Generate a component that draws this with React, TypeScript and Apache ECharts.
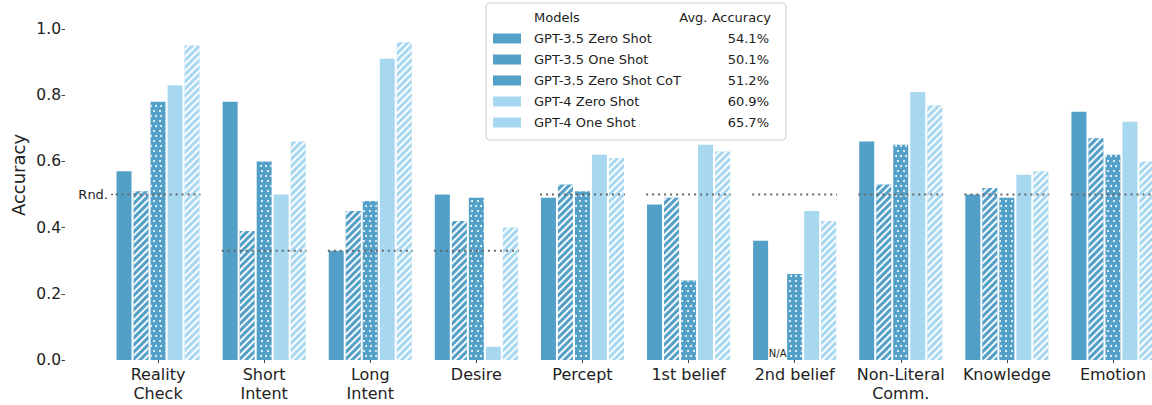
import React, { useEffect, useRef } from "react";
import * as echarts from "echarts";

const categories = [
  "Reality\nCheck",
  "Short\nIntent",
  "Long\nIntent",
  "Desire",
  "Percept",
  "1st belief",
  "2nd belief",
  "Non-Literal\nComm.",
  "Knowledge",
  "Emotion",
];

const models = [
  "GPT-3.5 Zero Shot",
  "GPT-3.5 One Shot",
  "GPT-3.5 Zero Shot CoT",
  "GPT-4 Zero Shot",
  "GPT-4 One Shot",
];

const avgAccuracy = [54.1, 50.1, 51.2, 60.9, 65.7];

const gpt35ZeroShot = [0.57, 0.78, 0.33, 0.5, 0.49, 0.47, 0.36, 0.66, 0.5, 0.75];
const gpt35OneShot: (number | null)[] = [0.51, 0.39, 0.45, 0.42, 0.53, 0.49, null, 0.53, 0.52, 0.67];
const gpt35ZeroShotCoT = [0.78, 0.6, 0.48, 0.49, 0.51, 0.24, 0.26, 0.65, 0.49, 0.62];
const gpt4ZeroShot = [0.83, 0.5, 0.91, 0.04, 0.62, 0.65, 0.45, 0.81, 0.56, 0.72];
const gpt4OneShot = [0.95, 0.66, 0.96, 0.4, 0.61, 0.63, 0.42, 0.77, 0.57, 0.6];

const randomBaseline = [0.5, 0.33, 0.33, 0.33, 0.5, 0.5, 0.5, 0.5, 0.5, 0.5];

const yTicks = [0, 0.2, 0.4, 0.6, 0.8, 1.0];

const FONT = "DejaVu Sans";
const DARK = "#529fc7";
const LIGHT = "#a7d8f0";

const hatch = {
  symbol: "rect",
  symbolSize: 1,
  color: "rgba(255,255,255,0.95)",
  dashArrayX: [1, 0],
  dashArrayY: [1.4, 2.8],
  rotation: -Math.PI / 4,
};

const dots = {
  symbol: "circle",
  symbolSize: 1,
  color: "rgba(255,255,255,0.95)",
  dashArrayX: [
    [2, 3],
    [0, 2.5, 2, 0.5],
  ],
  dashArrayY: [2, 3],
};

export default function App() {
  const ref = useRef<HTMLDivElement>(null);

  useEffect(() => {
    if (!ref.current) return;
    const chart = echarts.init(ref.current, null, { renderer: "svg" });

    const seriesValues = [gpt35ZeroShot, gpt35OneShot, gpt35ZeroShotCoT, gpt4ZeroShot, gpt4OneShot];
    const colors = [DARK, DARK, DARK, LIGHT, LIGHT];
    const decals: any[] = [null, hatch, dots, null, hatch];

    const barSeries = models.map((name, si) => ({
      name,
      type: "bar",
      barWidth: 15,
      barGap: "13.4%",
      xAxisIndex: 0,
      yAxisIndex: 0,
      itemStyle: {
        color: colors[si],
        decal: decals[si] || "none",
      },
      data: seriesValues[si].map((v) =>
        v === null
          ? {
              value: 0,
              label: {
                show: true,
                formatter: "N/A",
                position: "top",
                distance: 2,
                fontSize: 10,
                fontFamily: FONT,
                color: "#222",
              },
            }
          : v
      ),
    }));

    const baselineSeries = {
      type: "custom",
      name: "baseline",
      xAxisIndex: 0,
      yAxisIndex: 0,
      z: 10,
      silent: true,
      encode: { x: 0, y: 1 },
      data: randomBaseline.map((v, i) => [i, v]),
      renderItem: (params: any, api: any) => {
        const c = api.coord([api.value(0), api.value(1)]);
        const w = api.size([1, 0])[0] * 0.8;
        return {
          type: "line",
          shape: { x1: c[0] - w / 2, y1: c[1], x2: c[0] + w / 2, y2: c[1] },
          style: { stroke: "#666", lineWidth: 2, lineDash: [2, 4], lineCap: "butt" },
        };
      },
    };

    chart.setOption({
      animation: false,
      textStyle: { fontFamily: FONT },
      grid: {
        left: 105,
        right: -14,
        top: 29,
        bottom: 45,
        containLabel: false,
        outerBoundsMode: "none",
      },
      xAxis: {
        type: "category",
        data: categories,
        axisLine: { show: false },
        axisTick: { show: true, alignWithLabel: true, length: 3, lineStyle: { color: "#444" } },
        axisLabel: {
          interval: 0,
          fontSize: 16,
          color: "#222",
          lineHeight: 19,
          margin: 5,
          fontFamily: FONT,
          hideOverlap: false,
        },
        splitLine: { show: false },
      },
      yAxis: [
        {
          type: "value",
          min: 0,
          max: 1,
          interval: 0.2,
          offset: 40,
          position: "left",
          axisLine: { show: false },
          axisTick: { show: true, length: 3.5, lineStyle: { color: "#444" }, customValues: yTicks },
          axisLabel: {
            fontSize: 15.5,
            color: "#222",
            margin: 4,
            fontFamily: FONT,
            customValues: yTicks,
            formatter: (v: number) => v.toFixed(1),
          },
          splitLine: { show: false },
        },
        {
          type: "value",
          min: 0,
          max: 1,
          position: "left",
          offset: -8,
          axisLine: { show: false },
          axisTick: { show: true, length: 2, lineStyle: { color: "#444" }, customValues: [0.5] },
          axisLabel: {
            fontSize: 13,
            color: "#222",
            margin: 5,
            fontFamily: FONT,
            customValues: [0.5],
            formatter: () => "Rnd.",
          },
          splitLine: { show: false },
        },
      ],
      legend: {
        orient: "vertical",
        left: 486,
        top: 3,
        data: models.map((name) => ({ name, itemStyle: { decal: "none" } })),
        icon: "rect",
        itemWidth: 28,
        itemHeight: 10,
        itemGap: 6,
        padding: [28, 17, 10, 7],
        backgroundColor: "rgba(255,255,255,0.85)",
        borderColor: "#cccccc",
        borderWidth: 1,
        borderRadius: 4,
        formatter: (name: string) => {
          const i = models.indexOf(name);
          return `{n|${name}}{p|${avgAccuracy[i].toFixed(1)}%}`;
        },
        textStyle: {
          fontFamily: FONT,
          fontSize: 13,
          color: "#222",
          lineHeight: 15,
          padding: [0, 0, 0, 8],
          rich: {
            n: { width: 175, fontSize: 13, fontFamily: FONT, color: "#222" },
            p: { width: 60, align: "right", fontSize: 13, fontFamily: FONT, color: "#222" },
          },
        },
      },
      graphic: [
        {
          type: "text",
          x: 534,
          y: 17,
          z: 100,
          style: { text: "Models", fontSize: 13, fontFamily: FONT, fill: "#222", verticalAlign: "middle" },
        },
        {
          type: "text",
          x: 771,
          y: 17,
          z: 100,
          style: {
            text: "Avg. Accuracy",
            fontSize: 13,
            fontFamily: FONT,
            fill: "#222",
            align: "right",
            verticalAlign: "middle",
          },
        },
        {
          type: "text",
          x: 18,
          y: 175,
          rotation: Math.PI / 2,
          style: {
            text: "Accuracy",
            fontSize: 18,
            fontFamily: FONT,
            fill: "#222",
            align: "center",
            verticalAlign: "middle",
          },
        },
      ],
      series: [...barSeries, baselineSeries],
    });

    return () => chart.dispose();
  }, []);

  return (
    <div
      ref={ref}
      style={{ position: "absolute", left: 0, top: 0, width: 1152, height: 405, background: "#fff" }}
    />
  );
}
